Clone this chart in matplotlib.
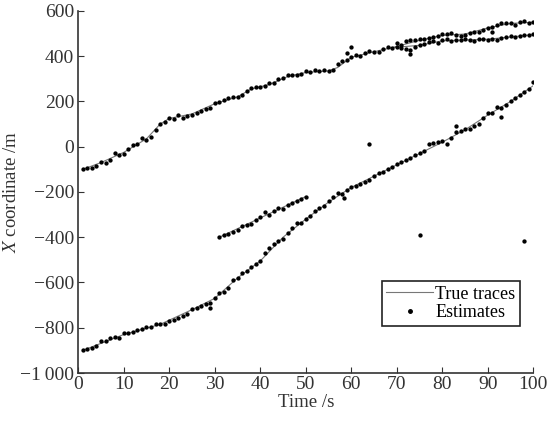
import numpy as np
import matplotlib
matplotlib.use("Agg")
import matplotlib.pyplot as plt

plt.rcParams['font.family'] = ['Liberation Serif', 'DejaVu Serif']
plt.rcParams['mathtext.fontset'] = 'stix'

# true traces (knot points)
true_a = [(1, -100), (5, -70), (10, -25), (15, 35), (18, 100), (20, 125), (25, 145), (30, 190),
          (35, 220), (38, 255), (42, 275), (46, 310), (50, 328), (55, 335), (57, 350), (60, 395),
          (65, 420), (69, 438)]
true_a1 = [(69, 438), (75, 470), (80, 492), (85, 498), (90, 525), (95, 545), (100, 550)]
true_a2 = [(69, 438), (75, 448), (80, 468), (90, 475), (100, 495)]
true_b = [(1, -900), (10, -830), (18, -785), (25, -720), (30, -670), (35, -580), (40, -505),
          (45, -400), (50, -320), (55, -245), (60, -180), (70, -80), (75, -30), (80, 20),
          (85, 75), (90, 140), (95, 200), (100, 270)]
true_c = [(31, -400), (50, -220)]

# estimates
t_a = list(range(1, 70))
est_a = [-98, -96, -93, -85, -68, -70, -58, -28, -38, -30, -10, 8, 12, 40, 28, 45, 75, 100, 110, 125,
         122, 140, 128, 135, 140, 148, 160, 168, 172, 195, 198, 205, 215, 218, 220, 230, 245, 260, 262, 262,
         268, 280, 282, 300, 305, 315, 318, 318, 320, 335, 330, 340, 335, 338, 335, 340, 365, 378, 385, 395,
         405, 400, 412, 425, 420, 418, 430, 440, 435]
t_a1 = list(range(70, 101))
est_a1 = [458, 450, 465, 472, 470, 475, 478, 480, 485, 490, 496, 500, 502, 492, 488, 495, 502, 508, 505, 515,
          525, 530, 540, 545, 548, 545, 540, 550, 556, 548, 552]
t_a2 = list(range(70, 101))
est_a2 = [440, 438, 432, 428, 440, 450, 455, 462, 468, 460, 470, 475, 468, 472, 470, 478, 470, 465, 478, 475,
          470, 478, 472, 482, 485, 488, 483, 490, 495, 492, 498]
t_b = list(range(1, 101))
est_b = [-900, -895, -888, -880, -860, -858, -845, -840, -845, -825, -822, -818, -810, -805, -798, -795,
         -785, -782, -785, -772, -765, -758, -750, -740, -715, -712, -705, -695, -690, -668, -645, -640,
         -625, -590, -580, -560, -548, -530, -518, -505, -470, -448, -430, -415, -408, -380, -360, -338,
         -335, -320, -305, -285, -270, -262, -240, -222, -205, -210, -190, -178, -175, -165, -155, -145,
         -130, -118, -110, -100, -90, -78, -68, -58, -48, -38, -28, -18, 10, 15, 20, 25, 12, 40, 65, 70,
         78, 80, 90, 100, 125, 150, 150, 175, 170, 185, 200, 215, 228, 240, 255, 285]
t_c = list(range(31, 51))
est_c = [-400, -392, -385, -378, -370, -352, -345, -340, -322, -310, -290, -300, -285, -270, -275, -258,
         -250, -240, -232, -222]
# stray estimates and clutter
t_extra = [59, 60, 73, 91, 29, 58.5, 83, 93, 64, 75, 98]
est_extra = [413, 442, 408, 505, -712, -228, 90, 130, 13, -392, -416]

fig = plt.figure(figsize=(5.47, 4.21), dpi=100)
ax = fig.add_axes([0.143, 0.114, 0.832, 0.86])

line_kw = dict(color='#777777', lw=0.8)
for i, tr in enumerate([true_a, true_a1, true_a2, true_b, true_c]):
    xs, ys = zip(*tr)
    ax.plot(xs, ys, label='True traces' if i == 0 else None, **line_kw)

dot_kw = dict(color='black', marker='o', ms=2.1, ls='none')
ax.plot(t_a, est_a, label='Estimates', **dot_kw)
for tt, ee in [(t_a1, est_a1), (t_a2, est_a2), (t_b, est_b), (t_c, est_c), (t_extra, est_extra)]:
    ax.plot(tt, ee, **dot_kw)

ax.set_xlim(0, 100)
ax.set_ylim(-1000, 600)
ax.set_xticks(np.arange(0, 101, 10))
ax.set_yticks(np.arange(-1000, 601, 200))
ax.set_yticklabels(['\u22121\u2009000' if v == -1000 else ('\u2212%d' % -v if v < 0 else '%d' % v)
                    for v in range(-1000, 601, 200)])
ax.spines['top'].set_visible(False)
ax.spines['right'].set_visible(False)
ax.tick_params(direction='in', length=4, labelsize=14, colors='#333333', pad=2)
ax.tick_params(axis='y', pad=3)
for s in ['left', 'bottom']:
    ax.spines[s].set_color('#333333')
    ax.spines[s].set_linewidth(1.2)

ax.set_xlabel('Time /s', fontsize=13.5, color='#333333', labelpad=1)
ax.set_ylabel('$X$ coordinate /m', fontsize=13.5, color='#333333', labelpad=0)

leg = ax.legend(loc='lower right', bbox_to_anchor=(0.99, 0.105), fontsize=13, fancybox=False,
                framealpha=1, edgecolor='#222222', handlelength=2.6, handletextpad=0.1,
                borderpad=0.25, labelspacing=0.1, markerscale=1.2)
leg.get_frame().set_linewidth(1.2)

fig.savefig('out.png', dpi=100)
